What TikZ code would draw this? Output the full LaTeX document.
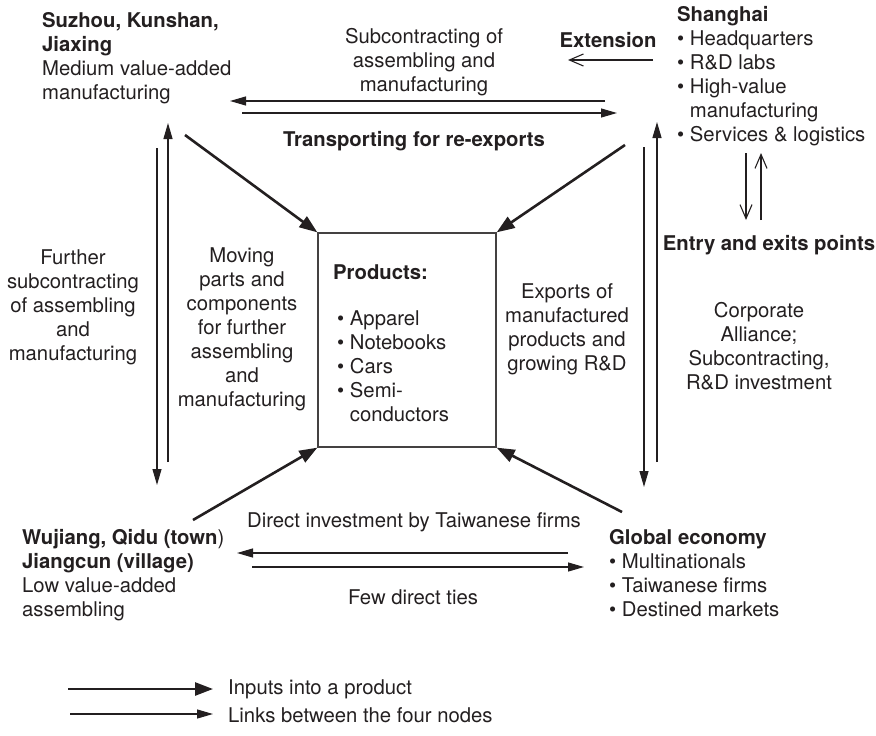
\documentclass[tikz,border=0pt]{standalone}
\usepackage{fontspec}
\setmainfont{TeX Gyre Heros}
\usetikzlibrary{arrows.meta}
\definecolor{ink}{HTML}{231F20}
\tikzset{
  txt/.style={inner sep=0pt, text=ink, font=\fontsize{20.3}{24}\selectfont},
  lbl/.style={txt, align=center, anchor=north},
  blk/.style={txt, align=left, anchor=north west},
  thinarr/.style={draw=ink, line width=1.2pt, -{Triangle[length=16pt,width=9pt]}},
  thickarr/.style={draw=ink, line width=2.6pt, -{Triangle[length=18pt,width=13pt]}},
  openarr/.style={draw=ink, line width=1.1pt, -{Straight Barb[length=14pt,width=12pt,line width=1.1pt]}},
  prodbox/.style={draw=ink!85, line width=1.3pt, minimum width=178pt, minimum height=214pt, inner sep=0pt},
}
\newcommand{\bul}{\textbullet\ }
\newcommand{\hbul}{\hphantom{\textbullet\ }}
\begin{document}
\begin{tikzpicture}[x=1pt,y=-1pt]
\useasboundingbox (0,0) rectangle (876,736);
% product box
\node[prodbox] (prod) at (407,340) {};
\node[blk] (prodtitle) at (333,264) {\textbf{Products:}};
\node[blk] (prodlist) at (337,310) {\bul Apparel\\\bul Notebooks\\\bul Cars\\\bul Semi-\\\hbul conductors};
% four corner nodes
\node[blk] (suz) at (42,12) {\textbf{Suzhou, Kunshan,}\\\textbf{Jiaxing}\\Medium value-added\\manufacturing};
\node[blk] (sha) at (677,6) {\textbf{Shanghai}\\\bul Headquarters\\\bul R\&D labs\\\bul High-value\\\hbul manufacturing\\\bul Services \& logistics};
\node[blk] (wuj) at (22,529) {\textbf{Wujiang, Qidu (town})\\\textbf{Jiangcun (village)}\\Low value-added\\assembling};
\node[blk] (glob) at (609,529) {\textbf{Global economy}\\\bul Multinationals\\\bul Taiwanese firms\\\bul Destined markets};
% labels
\node[txt] (ext) at (608,40) {\textbf{Extension}};
\node[lbl] (subc) at (424,28) {Subcontracting of\\assembling and\\manufacturing};
\node[txt] (trans) at (414,141) {\textbf{Transporting for re-exports}};
\node[txt] (entry) at (769,245) {\textbf{Entry and exits points}};
\node[lbl] (further) at (73,249) {Further\\subcontracting\\of assembling\\and\\manufacturing};
\node[lbl] (moving) at (242,247) {Moving\\parts and\\components\\for further\\assembling\\and\\manufacturing};
\node[lbl] (exports) at (567,283) {Exports of\\manufactured\\products and\\growing R\&D};
\node[lbl] (corp) at (759,302) {Corporate\\Alliance;\\Subcontracting,\\R\&D investment};
\node[txt] (direct) at (414,522) {Direct investment by Taiwanese firms};
\node[txt] (few) at (413,597) {Few direct ties};
% endpoints
\coordinate (t1a) at (605,101); \coordinate (t1b) at (230,101);
\coordinate (t2a) at (242,113); \coordinate (t2b) at (617,113);
\coordinate (l1a) at (157,148); \coordinate (l1b) at (157,485);
\coordinate (l2a) at (168,462); \coordinate (l2b) at (168,123);
\coordinate (r1a) at (644,147); \coordinate (r1b) at (644,487);
\coordinate (r2a) at (657,462); \coordinate (r2b) at (657,122);
\coordinate (b1a) at (568,553); \coordinate (b1b) at (237,553);
\coordinate (b2a) at (252,567); \coordinate (b2b) at (584,567);
\coordinate (dsuz) at (185,135); \coordinate (dsha) at (625,145);
\coordinate (dwuj) at (193,520); \coordinate (dglob) at (622,512);
\coordinate (e1a) at (746,153); \coordinate (e1b) at (746,220);
\coordinate (e2a) at (761,220); \coordinate (e2b) at (761,153);
\coordinate (xa) at (653,60); \coordinate (xb) at (568,60);
% thin links
\draw[thinarr] (t1a) -- (t1b);
\draw[thinarr] (t2a) -- (t2b);
\draw[thinarr] (l1a) -- (l1b);
\draw[thinarr] (l2a) -- (l2b);
\draw[thinarr] (r1a) -- (r1b);
\draw[thinarr] (r2a) -- (r2b);
\draw[thinarr] (b1a) -- (b1b);
\draw[thinarr] (b2a) -- (b2b);
% thick inputs
\draw[thickarr] (dsuz) -- (prod.north west);
\draw[thickarr] (dsha) -- (prod.north east);
\draw[thickarr] (dwuj) -- (prod.south west);
\draw[thickarr] (dglob) -- (prod.south east);
% open arrows
\draw[openarr] (e1a) -- (e1b);
\draw[openarr] (e2a) -- (e2b);
\draw[openarr] (xa) -- (xb);
% legend
\coordinate (lg1a) at (68,689); \coordinate (lg1b) at (213,689);
\coordinate (lg2a) at (70,714); \coordinate (lg2b) at (213,714);
\draw[thickarr] (lg1a) -- (lg1b);
\draw[thinarr] (lg2a) -- (lg2b);
\node[txt, anchor=west] (leg1) at (228,689) {Inputs into a product};
\node[txt, anchor=west] (leg2) at (228,715) {Links between the four nodes};
\end{tikzpicture}
\end{document}
